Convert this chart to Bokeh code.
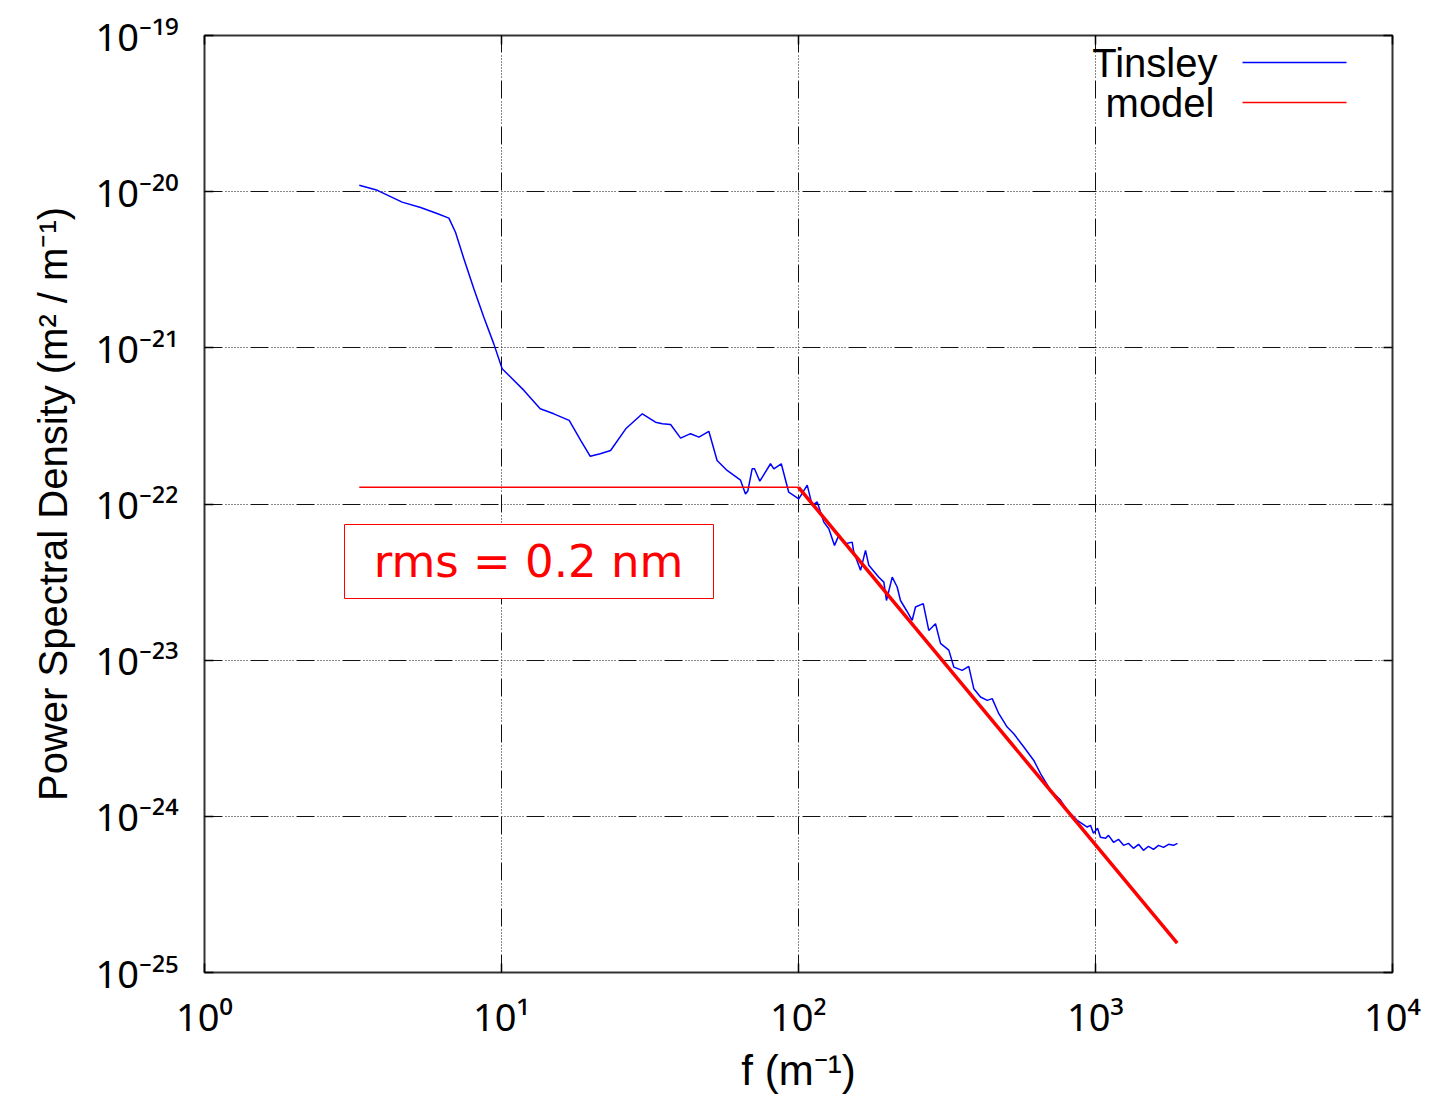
from bokeh.plotting import figure
from bokeh.models import (Range1d, FixedTicker, LogAxis, CustomJSTickFormatter,
                          Label, BoxAnnotation)
from bokeh.embed import file_html
from bokeh.resources import INLINE

# Measured surface profile PSD (Tinsley), spatial frequency in 1/m
tinsley_f = [
    3.32, 3.82, 4.63, 5.34, 6.07, 6.65, 7.00, 7.47, 8.07, 8.72,
    9.42, 10.05, 11.9, 13.5, 15.0, 16.9, 18.5, 19.9, 21.5, 23.3,
    26.2, 29.8, 33.0, 34.8, 37.1, 40.1, 43.3, 46.2, 49.9, 53.2,
    57.5, 63.8, 66.3, 67.5, 69.8, 71.1, 74.1, 80.5, 82.6, 87.5,
    92.7, 100.2, 107.0, 111.2, 115.6, 121.7, 126.5, 132.2, 136.7, 143.9,
    151.6, 153.5, 161.8, 168.1, 172.5, 186.4, 193.8, 197.8, 206.8, 214.9,
    220.5, 231.0, 241.4, 247.7, 263.0, 274.6, 289.3, 300.7, 320.7, 333.4,
    355.7, 374.4, 389.2, 410.1, 432.0, 449.0, 472.6, 504.2, 530.7, 573.7,
    619.9, 652.9, 705.6, 762.5, 802.9, 867.7, 937.8, 962.0, 984.0, 1016.0,
    1039.0, 1081.0, 1106.0, 1150.0, 1195.0, 1243.0, 1291.0, 1342.0, 1396.0, 1450.0,
    1508.0, 1568.0, 1630.0, 1694.0, 1762.0, 1830.0, 1888.0,
]
tinsley_psd = [
    1.10e-20, 1.02e-20, 8.57e-21, 7.92e-21, 7.25e-21, 6.77e-21, 5.50e-21, 3.72e-21, 2.39e-21, 1.57e-21,
    1.06e-21, 7.35e-22, 5.34e-22, 4.07e-22, 3.78e-22, 3.43e-22, 2.55e-22, 2.02e-22, 2.10e-22, 2.20e-22,
    3.03e-22, 3.78e-22, 3.34e-22, 3.27e-22, 3.23e-22, 2.64e-22, 2.82e-22, 2.68e-22, 2.92e-22, 1.90e-22,
    1.64e-22, 1.42e-22, 1.16e-22, 1.21e-22, 1.68e-22, 1.68e-22, 1.40e-22, 1.81e-22, 1.68e-22, 1.81e-22,
    1.19e-22, 1.08e-22, 1.32e-22, 9.80e-23, 1.03e-22, 7.66e-23, 6.95e-23, 5.43e-23, 6.30e-23, 5.57e-23,
    5.70e-23, 4.92e-23, 3.76e-23, 5.05e-23, 4.05e-23, 3.40e-23, 3.16e-23, 2.41e-23, 3.40e-23, 2.94e-23,
    2.41e-23, 2.08e-23, 1.80e-23, 2.19e-23, 2.30e-23, 1.55e-23, 1.71e-23, 1.28e-23, 1.16e-23, 9.03e-24,
    8.60e-24, 9.12e-24, 6.57e-24, 5.81e-24, 5.53e-24, 5.67e-24, 4.54e-24, 3.73e-24, 3.38e-24, 2.78e-24,
    2.28e-24, 1.88e-24, 1.47e-24, 1.27e-24, 1.09e-24, 9.43e-25, 8.54e-25, 8.76e-25, 7.78e-25, 8.38e-25,
    7.34e-25, 7.23e-25, 7.55e-25, 6.82e-25, 7.13e-25, 6.52e-25, 6.71e-25, 6.24e-25, 6.62e-25, 6.06e-25,
    6.43e-25, 6.15e-25, 6.52e-25, 6.33e-25, 6.62e-25, 6.52e-25, 6.71e-25,
]

# Broken power-law model: flat plateau, then a power-law roll-off
model_f = [3.32, 100.0, 1884.0]
model_psd = [1.28e-22, 1.28e-22, 1.54e-25]

x_tick_exponents = [0, 1, 2, 3, 4]
y_tick_exponents = [-25, -24, -23, -22, -21, -20, -19]

x_title = "f (m\u207b\u00b9)"
y_title = "Power Spectral Density (m\u00b2 / m\u207b\u00b9)"
legend_labels = ["Tinsley", "model"]
legend_colors = ["#0000ff", "#ff0000"]
rms_text = "rms = 0.2 nm"

FONT = "Liberation Sans"
TICK_FONT = "Noto Sans"          # has the full set of superscript digits
FRAME_W, FRAME_H = 1188, 937
X_LO, X_HI = 10.0 ** x_tick_exponents[0], 10.0 ** x_tick_exponents[-1]
Y_LO, Y_HI = 10.0 ** y_tick_exponents[0], 10.0 ** y_tick_exponents[-1]
X_DEC = x_tick_exponents[-1] - x_tick_exponents[0]
Y_DEC = y_tick_exponents[-1] - y_tick_exponents[0]
BASELINE_FIX = 0.37   # lifts Label text so that dy refers to the glyph baseline


def frame_to_data(dx, dy):
    """Pixel offset from the frame's lower-left corner -> data coordinates."""
    return (10 ** (x_tick_exponents[0] + X_DEC * dx / FRAME_W),
            10 ** (y_tick_exponents[0] + Y_DEC * dy / FRAME_H))


p = figure(
    width=1430, height=1096,
    x_axis_type="log", y_axis_type="log",
    x_range=Range1d(X_LO, X_HI), y_range=Range1d(Y_LO, Y_HI),
    output_backend="svg", toolbar_location=None,
    min_border_left=204, min_border_right=38,
    min_border_top=35, min_border_bottom=124,
    background_fill_color="white", border_fill_color="white",
    outline_line_color="#333333", outline_line_width=2,
)

x_ticker = FixedTicker(ticks=[10.0 ** k for k in x_tick_exponents])
y_ticker = FixedTicker(ticks=[10.0 ** k for k in y_tick_exponents])

# "10" followed by the exponent in superscript characters
power_of_ten = CustomJSTickFormatter(code="""
    const sup = {"-": "\\u207b", "0": "\\u2070", "1": "\\u00b9", "2": "\\u00b2",
                 "3": "\\u00b3", "4": "\\u2074", "5": "\\u2075", "6": "\\u2076",
                 "7": "\\u2077", "8": "\\u2078", "9": "\\u2079"};
    const e = String(Math.round(Math.log10(tick)));
    return "10" + e.split("").map(c => sup[c]).join("");
""")
blank = CustomJSTickFormatter(code="return ''")


def style_axis(ax, formatter):
    ax.formatter = formatter
    ax.axis_line_color = None
    ax.major_tick_in = 9
    ax.major_tick_out = 0
    ax.major_tick_line_color = "black"
    ax.major_tick_line_width = 1.5
    ax.minor_tick_line_color = None
    ax.major_label_text_font = TICK_FONT
    ax.major_label_text_font_size = "38px"
    ax.major_label_text_color = "black"
    ax.axis_label_text_font = FONT
    ax.axis_label_text_font_style = "normal"
    ax.axis_label_text_color = "black"


p.xaxis.ticker = x_ticker
p.yaxis.ticker = y_ticker
style_axis(p.xaxis[0], power_of_ten)
style_axis(p.yaxis[0], power_of_ten)
p.xaxis.major_label_standoff = 17
p.xaxis.axis_label = x_title
p.xaxis.axis_label_text_font_size = "42px"
p.xaxis.axis_label_standoff = 2
p.yaxis.major_label_standoff = 26
p.yaxis.axis_label = y_title
p.yaxis.axis_label_text_font_size = "40px"
p.yaxis.axis_label_standoff = 18

top_axis = LogAxis(ticker=x_ticker)
style_axis(top_axis, blank)
top_axis.major_label_standoff = 0
p.add_layout(top_axis, "above")
right_axis = LogAxis(ticker=y_ticker)
style_axis(right_axis, blank)
right_axis.major_label_standoff = 0
p.add_layout(right_axis, "right")

grid_dash = "18 3 1 2 1 2 1 2 1 2 1 2 1 2 1 2 1 3"
for g in (p.xgrid[0], p.ygrid[0]):
    g.grid_line_color = "#111111"
    g.grid_line_width = 1
    g.grid_line_dash = grid_dash

# data curves
p.line(tinsley_f, tinsley_psd, line_color=legend_colors[0], line_width=1.5)
p.line(model_f[:2], model_psd[:2], line_color=legend_colors[1], line_width=1.5)
p.line(model_f[1:], model_psd[1:], line_color=legend_colors[1], line_width=3.5)


def note(text, dx, dy, size, align="left", color="black", font=FONT):
    """Text placed relative to the frame's lower-left corner, dy = baseline height."""
    p.add_layout(Label(
        x=X_LO, y=Y_LO, x_offset=dx, y_offset=dy + BASELINE_FIX * size, text=text,
        text_font=font, text_font_size=f"{size}px", text_color=color,
        text_align=align, text_baseline="alphabetic",
    ))


# legend: label on the left, line sample on the right
legend_rows = [(895, 910, 1013), (855, 870, 1010)]
for (text_dy, line_dy, text_dx), label, color in zip(legend_rows, legend_labels, legend_colors):
    note(label, text_dx, text_dy, 40, align="right")
    x0, y0 = frame_to_data(1038, line_dy)
    x1, _ = frame_to_data(1142, line_dy)
    p.segment(x0=[x0], y0=[y0], x1=[x1], y1=[y0], line_color=color, line_width=1.5)

# boxed rms annotation
bl, bb = frame_to_data(140, 374)
br, bt = frame_to_data(509, 448)
p.add_layout(BoxAnnotation(left=bl, right=br, bottom=bb, top=bt,
                           fill_color="white", fill_alpha=1.0,
                           line_color="#ff0000", line_width=1, line_alpha=1.0))
note(rms_text, 324, 394, 45, align="center", color="#ff0000", font="DejaVu Sans")

open("out.html", "w").write(file_html(p, INLINE))
